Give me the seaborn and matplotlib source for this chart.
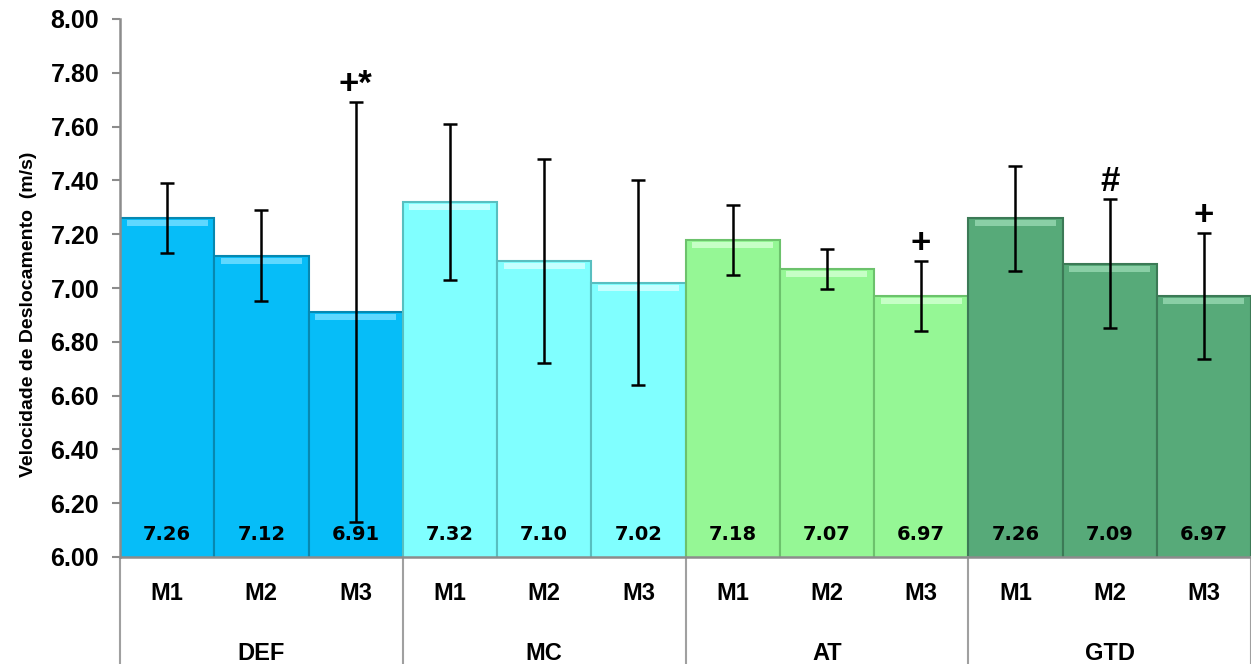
import numpy as np
import pandas as pd
import seaborn as sns
import matplotlib.pyplot as plt
import matplotlib.transforms as mtransforms

# data
groups = ["DEF", "MC", "AT", "GTD"]
moments = ["M1", "M2", "M3"]
means = [7.26, 7.12, 6.91, 7.32, 7.10, 7.02, 7.18, 7.07, 6.97, 7.26, 7.09, 6.97]
sds = [0.13, 0.17, 0.78, 0.29, 0.38, 0.38, 0.13, 0.075, 0.13, 0.195, 0.24, 0.235]
marks = ["", "", "+*", "", "", "", "", "", "+", "", "#", "+"]
group_colors = ["#06BDF8", "#80FFFF", "#95F795", "#57AA79"]
edge_colors = ["#0788B0", "#58BFC0", "#6CC26C", "#3C7A56"]
shine_colors = ["#5FD8FF", "#C4FFFF", "#C6FFC6", "#8ACFA6"]

df = pd.DataFrame({
    "cat": [g + " " + m for g in groups for m in moments],
    "group": [g for g in groups for m in moments],
    "mean": means,
})

sns.set_style("white")
plt.rcParams["font.family"] = ["Liberation Sans", "DejaVu Sans"]
plt.rcParams["text.color"] = "black"
plt.rcParams["ytick.labelcolor"] = "black"
plt.rcParams["axes.labelcolor"] = "black"

fig = plt.figure(figsize=(12.51, 6.64), dpi=100)
ax = fig.add_axes([120 / 1251, 107 / 664, 1131 / 1251, 538 / 664])

sns.barplot(data=df, x="cat", y="mean", hue="group", palette=group_colors,
            dodge=False, width=1.0, legend=False, ax=ax, saturation=1)

# edge colour per bar
bars = sorted(ax.patches, key=lambda p: p.get_x())
for i, p in enumerate(bars):
    p.set_edgecolor(edge_colors[i // 3])
    p.set_linewidth(1.5)

x = np.arange(len(means))
# glossy strip near the top of each bar
ax.bar(x, 0.022, bottom=np.array(means) - 0.03, width=0.86,
       color=[shine_colors[i // 3] for i in range(len(means))],
       linewidth=0, zorder=3)

ax.errorbar(x, means, yerr=sds, fmt="none", ecolor="black",
            elinewidth=1.8, capsize=5, capthick=1.8, zorder=5)

for i in range(len(means)):
    ax.text(x[i], 6.05, f"{means[i]:.2f}", ha="center", va="bottom",
            fontsize=14, fontweight="bold", family="DejaVu Sans", zorder=6)
    if marks[i]:
        ax.text(x[i], means[i] + sds[i] + 0.005, marks[i], ha="center",
                va="bottom", fontsize=25, fontweight="bold", zorder=6)

ax.set_ylim(6.0, 8.0)
ax.set_xlim(-0.5, len(means) - 0.5)
ticks = np.arange(6.0, 8.01, 0.2)
ax.set_yticks(ticks)
ax.set_yticklabels([f"{v:.2f}" for v in ticks], fontsize=18,
                   fontweight="bold")
ax.tick_params(axis="y", length=6, width=1.5, color="#8C8C8C", pad=9,
               left=True)
ax.set_xticks([])
ax.set_xlabel("")
ax.set_ylabel("Velocidade de Deslocamento  (m/s)", fontsize=14,
              fontweight="bold")
ax.yaxis.set_label_coords(-0.073, 0.452)

for s in ["top", "right"]:
    ax.spines[s].set_visible(False)
for s in ["left", "bottom"]:
    ax.spines[s].set_color("#8C8C8C")
    ax.spines[s].set_linewidth(1.8)

trans = mtransforms.blended_transform_factory(ax.transData, ax.transAxes)
for i in range(len(means)):
    ax.text(x[i], -0.067, moments[i % 3], transform=trans, ha="center",
            va="center", fontsize=17, fontweight="bold")
for g, name in enumerate(groups):
    ax.text(3 * g + 1, -0.18, name, transform=trans, ha="center",
            va="center", fontsize=17, fontweight="bold")
for b in [-0.5, 2.5, 5.5, 8.5, 11.5]:
    ax.plot([b, b], [0, -0.3], transform=trans, color="#A0A0A0", lw=1.5,
            clip_on=False)

fig.savefig("out.png", dpi=100)
